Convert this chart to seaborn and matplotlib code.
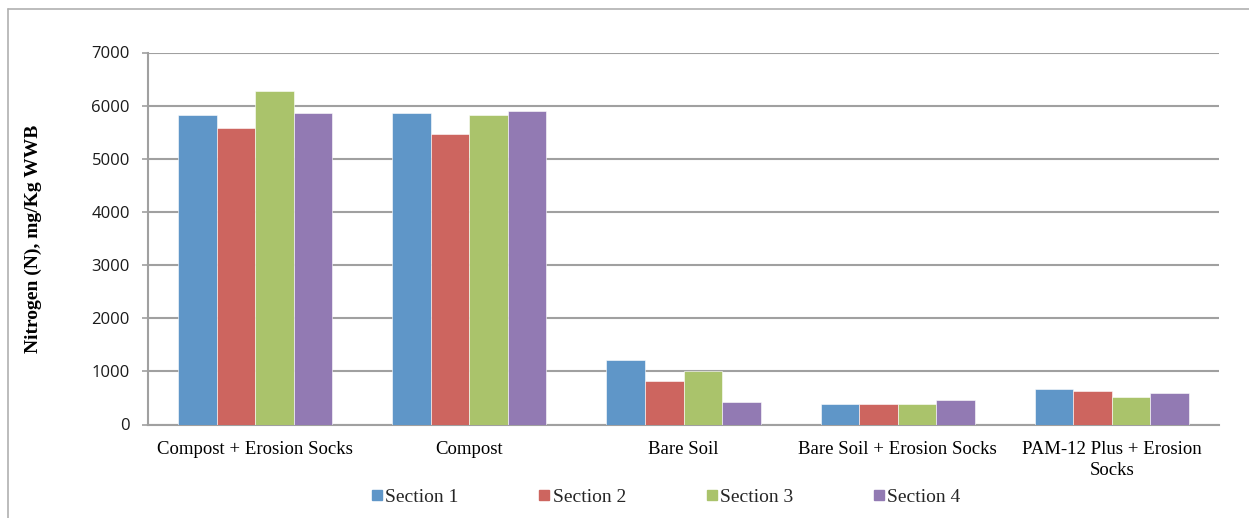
import matplotlib
matplotlib.use("Agg")
import matplotlib.pyplot as plt
from matplotlib.lines import Line2D
import pandas as pd
import seaborn as sns

categories = [
    "Compost + Erosion Socks",
    "Compost",
    "Bare Soil",
    "Bare Soil + Erosion Socks",
    "PAM-12 Plus + Erosion\nSocks",
]
sections = ["Section 1", "Section 2", "Section 3", "Section 4"]
section_1 = [5820, 5860, 1210, 385, 670]
section_2 = [5570, 5460, 810, 385, 633]
section_3 = [6280, 5820, 1000, 383, 525]
section_4 = [5860, 5890, 420, 455, 595]
y_ticks = [0, 1000, 2000, 3000, 4000, 5000, 6000, 7000]

colors = ["#5F96C8", "#CD655F", "#AAC36B", "#927AB3"]
grid_gray = "#A0A0A0"

rows = []
for sec, vals in zip(sections, [section_1, section_2, section_3, section_4]):
    for cat, v in zip(categories, vals):
        rows.append({"Treatment": cat, "Section": sec, "N": v})
df = pd.DataFrame(rows)

sns.set_theme(style="white")

W, H = 1249, 518
x0, x1, y_top, y_bot = 148, 1219, 52.5, 424.5
fig = plt.figure(figsize=(W / 100, H / 100), dpi=100)
ax = fig.add_axes([x0 / W, 1 - y_bot / H, (x1 - x0) / W, (y_bot - y_top) / H])

sns.barplot(
    data=df, x="Treatment", y="N", hue="Section", order=categories,
    hue_order=sections, palette=colors, width=0.72, saturation=1,
    edgecolor="white", linewidth=0.4, ax=ax, legend=False, zorder=3,
)

ax.set_ylim(0, 7000)
ax.set_yticks(y_ticks)
ax.set_xlim(-0.5, len(categories) - 0.5)
ax.yaxis.grid(True, color=grid_gray, linewidth=1.5, zorder=0)
ax.set_axisbelow(True)

for side in ["top", "right"]:
    ax.spines[side].set_visible(False)
for side in ["left", "bottom"]:
    ax.spines[side].set_color(grid_gray)
    ax.spines[side].set_linewidth(1.5)

ax.tick_params(axis="y", length=4, width=1.2, color=grid_gray, pad=9,
               labelsize=12, labelfontfamily="Open Sans",
               labelcolor="#1a1a1a", left=True)
ax.tick_params(axis="x", length=0, pad=12, labelsize=13.5,
               labelfontfamily="Liberation Serif", labelcolor="black")
for lbl in ax.get_xticklabels():
    lbl.set_linespacing(1.3)

ax.set_xlabel("")
ax.set_ylabel("Nitrogen (N), mg/Kg WWB", fontfamily="Liberation Serif",
              fontweight="bold", fontsize=14, color="black")
ax.yaxis.set_label_coords((42 - x0) / (x1 - x0), 0.5)

handles = [Line2D([], [], marker="s", linestyle="", markersize=6.5,
                  markerfacecolor=c, markeredgecolor=c) for c in colors]
fig.legend(handles, sections, loc="center", ncol=4,
           bbox_to_anchor=(666 / W, 1 - 497 / H), frameon=False,
           prop={"family": "Liberation Serif", "size": 14},
           handlelength=0.55, handletextpad=0.15, columnspacing=4.13)

# chart-area frame
fig.add_artist(Line2D([8 / W, 1.0], [1 - 9 / H, 1 - 9 / H],
                      transform=fig.transFigure, color="#B0B0B0", linewidth=1.2))
fig.add_artist(Line2D([8 / W, 8 / W], [0.0, 1 - 9 / H],
                      transform=fig.transFigure, color="#B0B0B0", linewidth=1.2))

fig.savefig("out.png", dpi=100, facecolor="white")
